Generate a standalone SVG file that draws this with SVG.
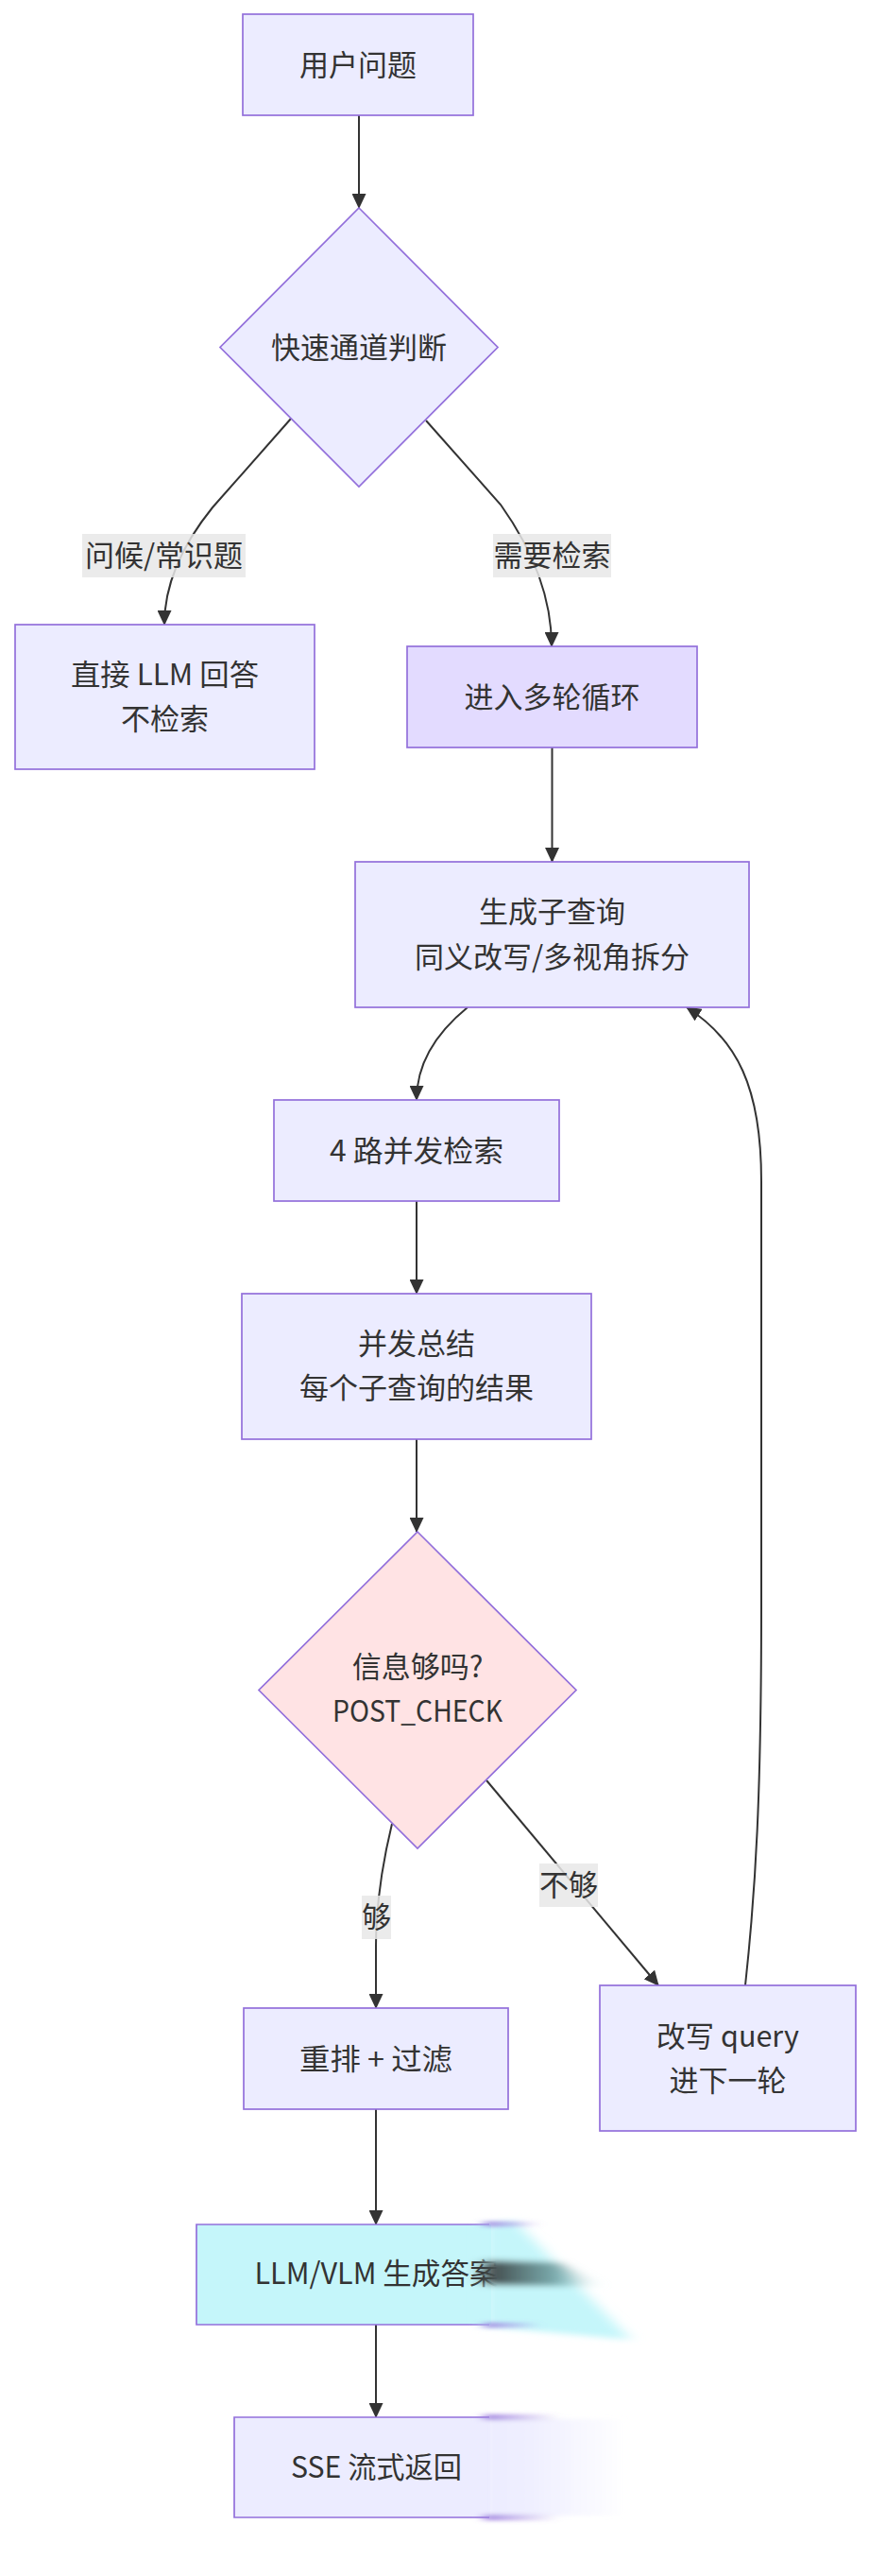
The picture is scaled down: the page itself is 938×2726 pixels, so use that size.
<svg xmlns="http://www.w3.org/2000/svg" width="938" height="2726" viewBox="0 0 938 2726">
<defs>
<style>
.n{fill:#ECECFF;stroke:#9370DB;stroke-width:1.7}
.t{font-family:"Noto Sans CJK SC","Noto Sans",sans-serif;font-size:31px;fill:#333;text-anchor:middle}
.e{fill:none;stroke:#333;stroke-width:2}
.lb{fill:#e8e8e8;opacity:0.85}
</style>
<marker id="ah" viewBox="0 0 16 15" refX="15" refY="7.5" markerWidth="16" markerHeight="15" markerUnits="userSpaceOnUse" orient="auto">
<path d="M0,0 L16,7.5 L0,15 z" fill="#333"/>
</marker>
<filter id="blurH" x="-50%" y="-50%" width="200%" height="200%"><feGaussianBlur stdDeviation="8 3"/></filter>
<filter id="blurS" x="-50%" y="-50%" width="200%" height="200%"><feGaussianBlur stdDeviation="6 2"/></filter>
<linearGradient id="fadeL" x1="0" y1="0" x2="1" y2="0">
<stop offset="0" stop-color="#ECECFF" stop-opacity="1"/>
<stop offset="0.35" stop-color="#ECECFF" stop-opacity="0.8"/>
<stop offset="1" stop-color="#ECECFF" stop-opacity="0"/>
</linearGradient>
<linearGradient id="fadeP" x1="0" y1="0" x2="1" y2="0">
<stop offset="0" stop-color="#9370DB" stop-opacity="0.9"/>
<stop offset="1" stop-color="#9370DB" stop-opacity="0"/>
</linearGradient>
<linearGradient id="fadeD" x1="0" y1="0" x2="1" y2="0">
<stop offset="0" stop-color="#333" stop-opacity="0.95"/>
<stop offset="0.6" stop-color="#5a8a8c" stop-opacity="0.7"/>
<stop offset="1" stop-color="#c5f6fa" stop-opacity="0"/>
</linearGradient>
</defs>
<rect width="938" height="2726" fill="#fff"/>

<g id="edges">
<path class="e" d="M380,122 L380,220" marker-end="url(#ah)"/>
<path class="e" d="M308,443 L225,537 Q174,600 174,661" marker-end="url(#ah)"/>
<path class="e" d="M451,445 L530,534 Q584,610 584,684" marker-end="url(#ah)"/>
<path class="e" d="M584.5,791 L584.5,912" marker-end="url(#ah)"/>
<path class="e" d="M495,1066 Q441,1110 441,1164" marker-end="url(#ah)"/>
<path class="e" d="M441,1271 L441,1369" marker-end="url(#ah)"/>
<path class="e" d="M441,1522 L441,1621" marker-end="url(#ah)"/>
<path class="e" d="M415,1930 Q398,2000 398,2060 L398,2125" marker-end="url(#ah)"/>
<path class="e" d="M515,1884 L697,2101" marker-end="url(#ah)"/>
<path class="e" d="M789,2101 C800,2000 806,1900 806,1700 L806,1250 C806,1150 780,1100 727,1066" marker-end="url(#ah)"/>
<path class="e" d="M398,2232 L398,2354" marker-end="url(#ah)"/>
<path class="e" d="M398,2460 L398,2558" marker-end="url(#ah)"/>
</g>

<g id="edge-labels">
<rect class="lb" x="87" y="565" width="173" height="46"/>
<text class="t" x="173.5" y="599">问候/常识题</text>
<rect class="lb" x="522" y="565" width="125" height="46"/>
<text class="t" x="584.5" y="599">需要检索</text>
<rect class="lb" x="383" y="2006" width="31" height="46"/>
<text class="t" x="398.5" y="2040">够</text>
<rect class="lb" x="571" y="1972" width="62" height="46"/>
<text class="t" x="602" y="2006">不够</text>
</g>

<g id="n-user">
<rect class="n" x="257" y="15" width="244" height="107"/>
<text class="t" x="379" y="79.5">用户问题</text>
</g>

<g id="n-fast">
<polygon class="n" points="380,220 527,367.5 380,515 233,367.5"/>
<text class="t" x="380" y="379">快速通道判断</text>
</g>

<g id="n-direct">
<rect class="n" x="16" y="661" width="317" height="153"/>
<text class="t" x="174.5" y="725" textLength="199" lengthAdjust="spacingAndGlyphs">直接 LLM 回答</text>
<text class="t" x="174.5" y="772">不检索</text>
</g>

<g id="n-loop">
<rect class="n" x="431" y="684" width="307" height="107" style="fill:#E3DBFF"/>
<text class="t" x="584.5" y="748.5">进入多轮循环</text>
</g>

<g id="n-subq">
<rect class="n" x="376" y="912" width="417" height="154"/>
<text class="t" x="584.5" y="976">生成子查询</text>
<text class="t" x="584.5" y="1023.5">同义改写/多视角拆分</text>
</g>

<g id="n-search">
<rect class="n" x="290" y="1164" width="302" height="107"/>
<text class="t" x="441" y="1228.5" textLength="184" lengthAdjust="spacingAndGlyphs">4 路并发检索</text>
</g>

<g id="n-summary">
<rect class="n" x="256" y="1369" width="370" height="154"/>
<text class="t" x="441" y="1433">并发总结</text>
<text class="t" x="441" y="1480">每个子查询的结果</text>
</g>

<g id="n-check">
<polygon class="n" points="442,1621 610,1788.5 442,1956 274,1788.5" style="fill:#FFE3E4"/>
<text class="t" x="442" y="1775">信息够吗?</text>
<text class="t" x="442" y="1822" textLength="180" lengthAdjust="spacingAndGlyphs">POST_CHECK</text>
</g>

<g id="n-rerank">
<rect class="n" x="258" y="2125" width="280" height="107"/>
<text class="t" x="398" y="2189.5" textLength="162" lengthAdjust="spacingAndGlyphs">重排 + 过滤</text>
</g>

<g id="n-rewrite">
<rect class="n" x="635" y="2101" width="271" height="154"/>
<text class="t" x="770.5" y="2166" textLength="151" lengthAdjust="spacingAndGlyphs">改写 query</text>
<text class="t" x="770.5" y="2213">进下一轮</text>
</g>

<g id="n-gen">
<rect x="208" y="2354" width="312" height="106" fill="#C5F6FA"/>
<path d="M518,2354 H208 V2460 H518" fill="none" stroke="#9370DB" stroke-width="1.7"/>
<text class="t" x="398.5" y="2417" textLength="258" lengthAdjust="spacingAndGlyphs">LLM/VLM 生成答案</text>
<g filter="url(#blurH)">
<polygon points="512,2354 545,2350 668,2476 512,2462" fill="#C5F6FA"/>
<polygon points="512,2392 590,2394 640,2420 512,2418" fill="url(#fadeD)"/>
</g>
<g filter="url(#blurS)">
<rect x="512" y="2351" width="60" height="5" fill="url(#fadeP)"/>
<rect x="512" y="2458" width="60" height="5" fill="url(#fadeP)"/>
</g>
</g>

<g id="n-sse">
<rect x="248" y="2558" width="271" height="106" fill="#ECECFF"/>
<path d="M518,2558 H248 V2664 H518" fill="none" stroke="#9370DB" stroke-width="1.7"/>
<g filter="url(#blurS)">
<rect x="514" y="2560" width="150" height="102" fill="url(#fadeL)"/>
<rect x="512" y="2555" width="80" height="6" fill="url(#fadeP)"/>
<rect x="512" y="2661" width="80" height="6" fill="url(#fadeP)"/>
</g>
<text class="t" x="398.5" y="2621.5" textLength="181" lengthAdjust="spacingAndGlyphs">SSE 流式返回</text>
</g>
</svg>
